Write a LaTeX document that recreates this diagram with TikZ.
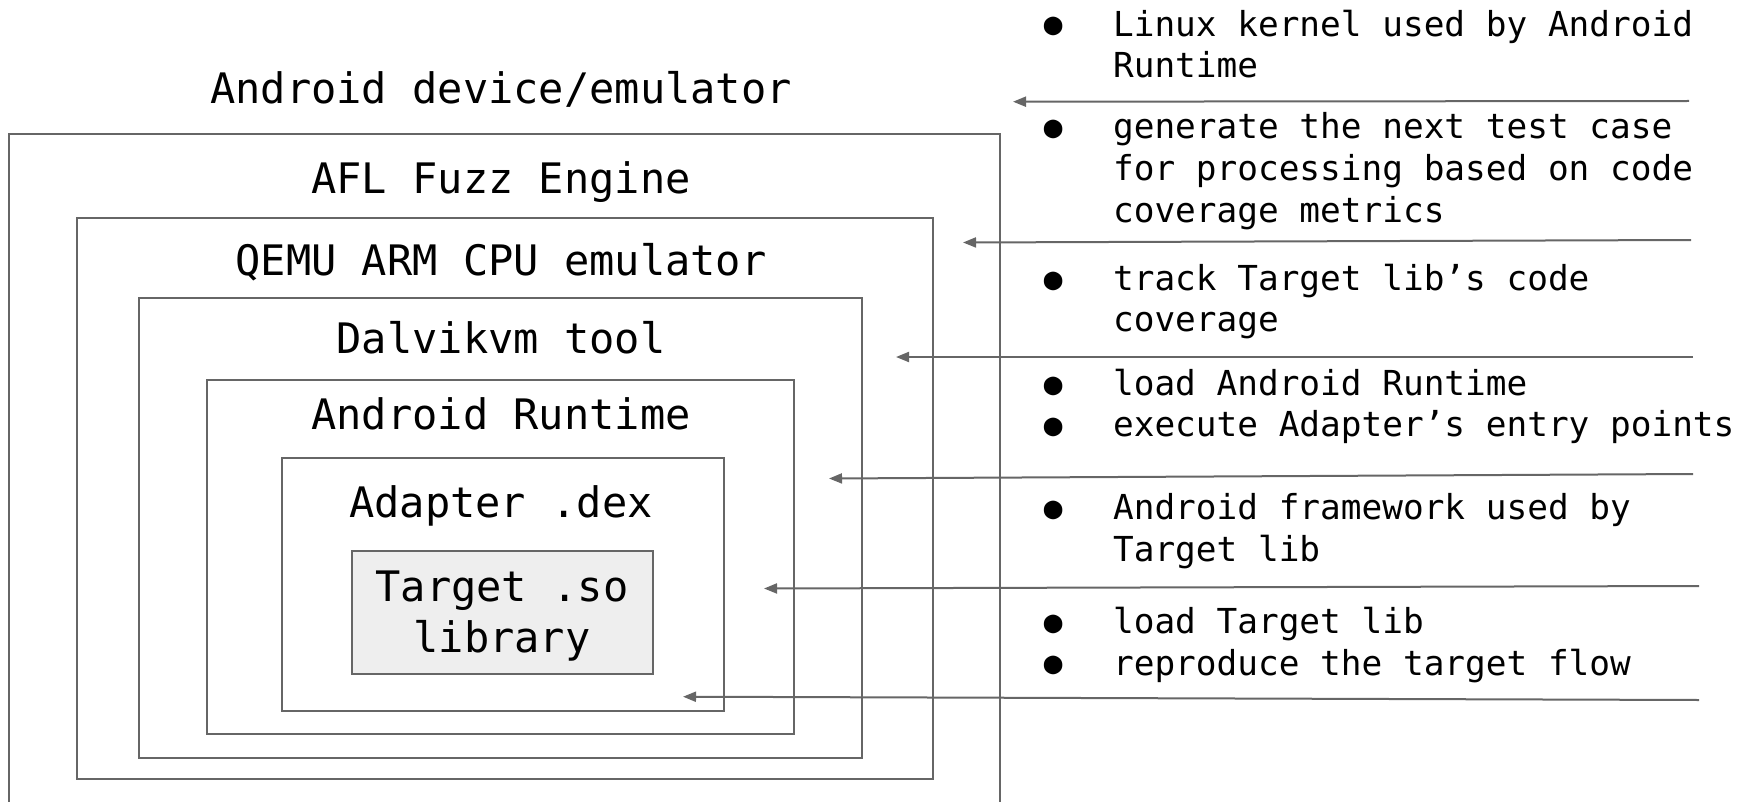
\documentclass[tikz,border=0pt]{standalone}
\usepackage{fontspec}
\setmonofont{DejaVu Sans Mono}
\usetikzlibrary{arrows.meta,fit}
\definecolor{LineGray}{HTML}{666666}
\definecolor{FillGray}{HTML}{EEEEEE}

\begin{document}
\begin{tikzpicture}[x=0.5pt, y=-0.5pt,
  layerbox/.style={draw=LineGray, line width=1pt, inner sep=0pt},
  lbl/.style={font=\ttfamily\fontsize{21}{25}\selectfont, anchor=base, inner sep=0pt},
  txt/.style={font=\ttfamily\fontsize{17.2}{21}\selectfont, anchor=base west, inner sep=0pt},
  bul/.style={font=\ttfamily\fontsize{15.5}{19}\selectfont, anchor=base, inner sep=0pt},
  ptr/.style={draw=LineGray, line width=1pt, -{Triangle[length=6.5pt,width=5pt]}}]
\useasboundingbox (0,0) rectangle (1738,802);

% Device frame (open at the bottom)
\draw[LineGray, line width=1pt] (9,802) |- (1000,134) -- (1000,802);
\node[lbl] (device) at (501,103.3) {Android device/emulator};
\node[lbl] (afl) at (501,193.3) {AFL Fuzz Engine};

% Nested layers
\node[layerbox, fit={(76.7,218.3) (933.3,779)}] (qemubox) {};
\node[lbl] (qemu) at (501,275.5) {QEMU ARM CPU emulator};

\node[layerbox, fit={(139,298) (862,758)}] (dalvikbox) {};
\node[lbl] (dalvik) at (501,353) {Dalvikvm tool};

\node[layerbox, fit={(207,380) (794,734)}] (artbox) {};
\node[lbl] (art) at (501,429.6) {Android Runtime};

\node[layerbox, fit={(282,458) (723.7,710.7)}] (adapterbox) {};
\node[lbl] (adapter) at (501,517.5) {Adapter .dex};

\node[layerbox, fill=FillGray, fit={(351.7,550.7) (652.7,674.3)}] (targetbox) {};
\node[lbl] (target) at (502,601) {Target .so};
\node[lbl] (library) at (502,652.5) {library};

% Notes
\node[bul] (b1) at (1053.3,35) {●};
\node[txt] (n1a) at (1112.7,36.5) {Linux kernel used by Android};
\node[txt] (n1b) at (1112.7,77.8) {Runtime};

\node[bul] (b2) at (1053.3,137.3) {●};
\node[txt] (n2a) at (1112.7,138.8) {generate the next test case};
\node[txt] (n2b) at (1112.7,180.5) {for processing based on code};
\node[txt] (n2c) at (1112.7,222.2) {coverage metrics};

\node[bul] (b3) at (1053.3,289) {●};
\node[txt] (n3a) at (1112.7,290.5) {track Target lib’s code};
\node[txt] (n3b) at (1112.7,331.5) {coverage};

\node[bul] (b4) at (1053.3,394) {●};
\node[txt] (n4a) at (1112.7,395.5) {load Android Runtime};
\node[bul] (b5) at (1053.3,435) {●};
\node[txt] (n4b) at (1112.7,436.5) {execute Adapter’s entry points};

\node[bul] (b6) at (1053.3,518) {●};
\node[txt] (n5a) at (1112.7,519.5) {Android framework used by};
\node[txt] (n5b) at (1112.7,561.2) {Target lib};

\node[bul] (b7) at (1053.3,632.3) {●};
\node[txt] (n6a) at (1112.7,633.8) {load Target lib};
\node[bul] (b8) at (1053.3,673.5) {●};
\node[txt] (n6b) at (1112.7,675) {reproduce the target flow};

% Pointers into the layers
\coordinate (s1) at (1689,101);   \coordinate (e1) at (1013,101.7);
\coordinate (s2) at (1691,240);   \coordinate (e2) at (963,242.5);
\coordinate (s3) at (1693,357);   \coordinate (e3) at (896,357);
\coordinate (s4) at (1693,474);   \coordinate (e4) at (829,478.5);
\coordinate (s5) at (1699,586);   \coordinate (e5) at (764,588.5);
\coordinate (s6) at (1699,700);   \coordinate (e6) at (683,696.7);

\draw[ptr] (s1) -- (e1);
\draw[ptr] (s2) -- (e2);
\draw[ptr] (s3) -- (e3);
\draw[ptr] (s4) -- (e4);
\draw[ptr] (s5) -- (e5);
\draw[ptr] (s6) -- (e6);

\end{tikzpicture}
\end{document}
